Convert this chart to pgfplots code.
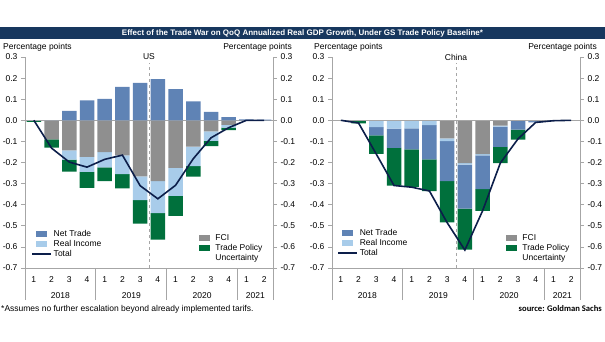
\documentclass[border=0pt]{standalone}
\usepackage{pgfplots}
\pgfplotsset{compat=1.18}
\usepackage{pgfplotstable}
\usepackage{fontspec}
\setmainfont{Liberation Sans}
\newfontfamily\srcfont{Carlito}
\definecolor{banner}{HTML}{17375E}
\definecolor{nt}{HTML}{5F83B5}
\definecolor{ri}{HTML}{A8CCEA}
\definecolor{fci}{HTML}{8F8F8F}
\definecolor{tpu}{HTML}{00703C}
\definecolor{tot}{HTML}{0C1E4A}
\definecolor{axg}{HTML}{A6A6A6}

\pgfplotstableread{
x fci ri tpu nt tot
0 0 0 -0.008 0 0
1 -0.090 0 -0.040 0 -0.132
2 -0.142 -0.044 -0.057 0.045 -0.198
3 -0.173 -0.072 -0.075 0.095 -0.222
4 -0.151 -0.072 -0.065 0.101 -0.185
5 -0.166 -0.089 -0.068 0.158 -0.165
6 -0.266 -0.112 -0.112 0.177 -0.310
7 -0.288 -0.152 -0.125 0.195 -0.372
8 -0.225 -0.133 -0.095 0.148 -0.308
9 -0.125 -0.092 -0.050 0.090 -0.182
10 -0.053 -0.045 -0.024 0.040 -0.083
11 -0.022 -0.013 -0.012 0.015 -0.035
12 -0.002 0 0 0.004 0.000
13 -0.001 0 0 0.003 0.000
}\usdata

\pgfplotstableread{
x fci ri nt tpu tot
0 0 0 0 0 0
1 0 0 0 -0.015 -0.013
2 0 -0.032 -0.040 -0.087 -0.160
3 0 -0.039 -0.092 -0.178 -0.309
4 0 -0.038 -0.100 -0.178 -0.317
5 0 -0.023 -0.162 -0.151 -0.335
6 -0.086 -0.013 -0.189 -0.196 -0.485
7 -0.203 -0.007 -0.208 -0.195 -0.615
8 -0.160 -0.006 -0.160 -0.103 -0.429
9 -0.025 -0.005 -0.096 -0.077 -0.203
10 0 0 -0.044 -0.047 -0.088
11 0 -0.004 -0.006 0 -0.010
12 0 0 -0.002 0 -0.002
13 0 0 0 0 0
}\cndata

\newcommand{\fs}{\fontsize{8.5}{9.5}\selectfont}

\pgfplotsset{
  panel/.style={scale only axis, width=248pt, height=211pt,
    xmin=-0.5, xmax=13.5, ymin=-0.7, ymax=0.3, clip=false,
    ytick={-0.7,-0.6,-0.5,-0.4,-0.3,-0.2,-0.1,0,0.1,0.2,0.3},
    yticklabel style={font=\fs, /pgf/number format/.cd, fixed, fixed zerofill, precision=1, assume math mode=true},
    tick align=outside, major tick length=4pt, minor tick length=17pt,
    axis line style={-, axg, line width=0.8pt},
    tick style={axg, line width=0.8pt},
  },
  mainax/.style={panel, ybar stacked, bar width=14.5pt,
    axis x line*=bottom, axis y line*=left,
    xtick=\empty, minor xtick={-0.5,0.5,...,13.5},
    extra x ticks={-0.5,3.5,7.5,11.5,13.5}, extra x tick labels={},
    extra x tick style={major tick length=32pt},
  },
  rightax/.style={panel, axis y line*=right, axis x line=none},
  legax/.style={panel, hide axis, legend cell align=left,
    legend style={draw=none, fill=none, font=\fs, inner sep=0pt, row sep=0pt,
      anchor=north west, nodes={inner xsep=1.5pt, inner ysep=1.5pt, text height=5.8pt, text depth=1.2pt}},
  },
  patch/.style={legend image code/.code={\fill[##1, draw=none] (1pt,-3.2pt) rectangle (12pt,3.2pt); \path (-3pt,0pt) (16pt,0pt);}},
  lineimg/.style={legend image code/.code={\draw[##1] (-3pt,0pt) -- (16pt,0pt);}},
}

\begin{document}
\begin{tikzpicture}[x=1pt,y=1pt]
\useasboundingbox (0,0) rectangle (605,341);
% banner
\fill[banner] (0,302) rectangle (605,314);
\node[text=white, font=\fontsize{8.0}{9}\selectfont\bfseries] at (302.5,308) {Effect of the Trade War on QoQ Annualized Real GDP Growth, Under GS Trade Policy Baseline*};
% unit labels
\node[anchor=base west, font=\fs, inner sep=0pt] at (3,292) {Percentage points};
\node[anchor=base east, font=\fs, inner sep=0pt] at (292,292) {Percentage points};
\node[anchor=base west, font=\fs, inner sep=0pt] at (314,292) {Percentage points};
\node[anchor=base east, font=\fs, inner sep=0pt] at (597,292) {Percentage points};
% footnotes
\node[anchor=base west, font=\fs, inner sep=0pt] at (1,30) {*Assumes no further escalation beyond already implemented tarifs.};
\node[anchor=base east, font=\fontsize{8.6}{10}\srcfont\bfseries, inner sep=0pt] at (602,30) {source: Goldman Sachs};

% ================= US =================
\begin{axis}[mainax, at={(25pt,73pt)}, anchor=south west]
\draw[axg, line width=0.8pt] (axis cs:-0.5,0) -- (axis cs:13.5,0);
\draw[axg, dashed, line width=0.6pt] (axis cs:6.5,-0.7) -- (axis cs:6.5,0.27);
\addplot[fill=fci, draw=none] table[x=x, y=fci]{\usdata};
\addplot[fill=ri, draw=none] table[x=x, y=ri]{\usdata};
\addplot[fill=tpu, draw=none] table[x=x, y=tpu]{\usdata};
\node[font=\fs] at (axis cs:6.5,0.3) {US};
\pgfplotsinvokeforeach{0,4,8,12}{\node[font=\fs, anchor=base] at (axis cs:#1,-0.7) [yshift=-14pt] {1};}
\pgfplotsinvokeforeach{1,5,9,13}{\node[font=\fs, anchor=base] at (axis cs:#1,-0.7) [yshift=-14pt] {2};}
\pgfplotsinvokeforeach{2,6,10}{\node[font=\fs, anchor=base] at (axis cs:#1,-0.7) [yshift=-14pt] {3};}
\pgfplotsinvokeforeach{3,7,11}{\node[font=\fs, anchor=base] at (axis cs:#1,-0.7) [yshift=-14pt] {4};}
\node[font=\fs, anchor=base] at (axis cs:1.5,-0.7) [yshift=-30pt] {2018};
\node[font=\fs, anchor=base] at (axis cs:5.5,-0.7) [yshift=-30pt] {2019};
\node[font=\fs, anchor=base] at (axis cs:9.5,-0.7) [yshift=-30pt] {2020};
\node[font=\fs, anchor=base] at (axis cs:12.5,-0.7) [yshift=-30pt] {2021};
\end{axis}
\begin{axis}[rightax, at={(25pt,73pt)}, anchor=south west]
\addplot[ybar, bar width=14.5pt, bar shift=0pt, fill=nt, draw=none] table[x=x, y=nt]{\usdata};
\addplot[tot, line width=1.6pt, mark=none] table[x=x, y=tot]{\usdata};
\end{axis}
\begin{axis}[legax, at={(25pt,73pt)}, anchor=south west, legend style={at={(0.026,0.186)}}]
\addlegendimage{patch, fill=nt}
\addlegendentry{Net Trade}
\addlegendimage{patch, fill=ri}
\addlegendentry{Real Income}
\addlegendimage{lineimg, tot, line width=1.6pt}
\addlegendentry{Total}
\end{axis}
\begin{axis}[legax, at={(25pt,73pt)}, anchor=south west, legend style={at={(0.683,0.167)}}]
\addlegendimage{patch, fill=fci}
\addlegendentry{FCI}
\addlegendimage{patch, fill=tpu}
\addlegendentry{Trade Policy}
\addlegendimage{empty legend}
\addlegendentry{Uncertainty}
\end{axis}

% ================= China =================
\begin{axis}[mainax, at={(332pt,73pt)}, anchor=south west]
\draw[axg, line width=0.8pt] (axis cs:-0.5,0) -- (axis cs:13.5,0);
\draw[axg, dashed, line width=0.6pt] (axis cs:6.5,-0.7) -- (axis cs:6.5,0.27);
\addplot[fill=fci, draw=none] table[x=x, y=fci]{\cndata};
\addplot[fill=ri, draw=none] table[x=x, y=ri]{\cndata};
\addplot[fill=nt, draw=none] table[x=x, y=nt]{\cndata};
\addplot[fill=tpu, draw=none] table[x=x, y=tpu]{\cndata};
\node[font=\fs] at (axis cs:6.5,0.3) {China};
\pgfplotsinvokeforeach{0,4,8,12}{\node[font=\fs, anchor=base] at (axis cs:#1,-0.7) [yshift=-14pt] {1};}
\pgfplotsinvokeforeach{1,5,9,13}{\node[font=\fs, anchor=base] at (axis cs:#1,-0.7) [yshift=-14pt] {2};}
\pgfplotsinvokeforeach{2,6,10}{\node[font=\fs, anchor=base] at (axis cs:#1,-0.7) [yshift=-14pt] {3};}
\pgfplotsinvokeforeach{3,7,11}{\node[font=\fs, anchor=base] at (axis cs:#1,-0.7) [yshift=-14pt] {4};}
\node[font=\fs, anchor=base] at (axis cs:1.5,-0.7) [yshift=-30pt] {2018};
\node[font=\fs, anchor=base] at (axis cs:5.5,-0.7) [yshift=-30pt] {2019};
\node[font=\fs, anchor=base] at (axis cs:9.5,-0.7) [yshift=-30pt] {2020};
\node[font=\fs, anchor=base] at (axis cs:12.5,-0.7) [yshift=-30pt] {2021};
\end{axis}
\begin{axis}[rightax, at={(332pt,73pt)}, anchor=south west]
\addplot[tot, line width=1.6pt, mark=none] table[x=x, y=tot]{\cndata};
\end{axis}
\begin{axis}[legax, at={(332pt,73pt)}, anchor=south west, legend style={at={(0.022,0.191)}}]
\addlegendimage{patch, fill=nt}
\addlegendentry{Net Trade}
\addlegendimage{patch, fill=ri}
\addlegendentry{Real Income}
\addlegendimage{lineimg, tot, line width=1.6pt}
\addlegendentry{Total}
\end{axis}
\begin{axis}[legax, at={(332pt,73pt)}, anchor=south west, legend style={at={(0.683,0.167)}}]
\addlegendimage{patch, fill=fci}
\addlegendentry{FCI}
\addlegendimage{patch, fill=tpu}
\addlegendentry{Trade Policy}
\addlegendimage{empty legend}
\addlegendentry{Uncertainty}
\end{axis}
\end{tikzpicture}
\end{document}
